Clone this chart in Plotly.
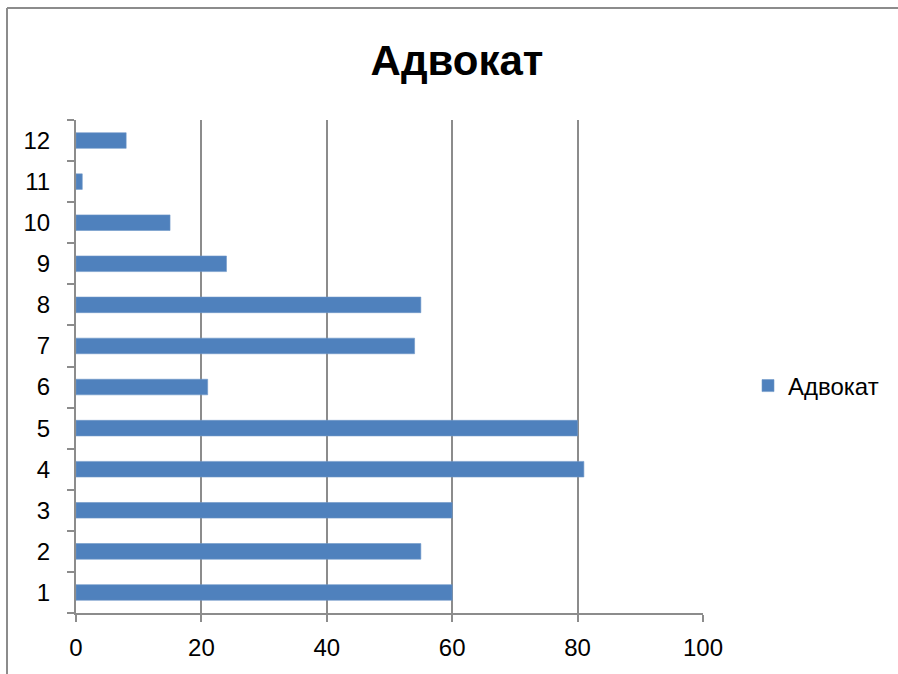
import plotly.graph_objects as go

categories = ["1", "2", "3", "4", "5", "6", "7", "8", "9", "10", "11", "12"]
values = [60, 55, 60, 81, 80, 21, 54, 55, 24, 15, 1, 8]
series_name = "Адвокат"
title_text = "Адвокат"
x_ticks = [0, 20, 40, 60, 80, 100]

W, H = 898, 674
L, R, T, B = 76, 195, 120, 61
pw, ph = W - L - R, H - T - B

def px_x(p):
    return (p - L) / pw

def px_y(p):
    return (H - B - p) / ph

FONT = "Liberation Sans, Arial, sans-serif"
GRAY = "#8c8c8c"

fig = go.Figure(
    go.Bar(
        x=values,
        y=categories,
        orientation="h",
        name=series_name,
        marker=dict(color="#4F81BD", line=dict(color="#6f97c8", width=0.6)),
        showlegend=True,
    )
)

fig.update_layout(
    width=W,
    height=H,
    margin=dict(l=L, r=R, t=T, b=B, autoexpand=False),
    paper_bgcolor="white",
    plot_bgcolor="white",
    font=dict(family=FONT, size=24, color="black"),
    bargap=0.62,
    title=dict(
        text="<b>" + title_text + "</b>",
        x=457 / W,
        xref="container",
        xanchor="center",
        y=1 - 60 / H,
        yref="container",
        yanchor="middle",
        font=dict(family=FONT, size=42, color="black"),
    ),
    legend=dict(
        x=px_x(748),
        y=px_y(386),
        xanchor="left",
        yanchor="middle",
        font=dict(family=FONT, size=24, color="black"),
        bgcolor="rgba(0,0,0,0)",
    ),
    xaxis=dict(
        range=[0, 100],
        tickvals=x_ticks,
        ticktext=[str(v) for v in x_ticks],
        ticks="outside",
        ticklen=7,
        tickwidth=2,
        tickcolor=GRAY,
        showgrid=True,
        gridcolor=GRAY,
        gridwidth=2,
        showline=True,
        linecolor=GRAY,
        linewidth=2,
        zeroline=False,
        ticklabelstandoff=5,
        fixedrange=True,
    ),
    yaxis=dict(
        type="category",
        categoryorder="array",
        categoryarray=categories,
        ticks="outside",
        tickson="boundaries",
        ticklen=7,
        tickwidth=2,
        tickcolor=GRAY,
        showgrid=False,
        showline=True,
        linecolor=GRAY,
        linewidth=2,
        zeroline=False,
        ticklabelstandoff=19,
        fixedrange=True,
    ),
    shapes=[
        dict(type="line", xref="paper", yref="paper",
             x0=px_x(7), x1=px_x(W + 5), y0=px_y(8), y1=px_y(8),
             line=dict(color=GRAY, width=2)),
        dict(type="line", xref="paper", yref="paper",
             x0=px_x(7), x1=px_x(7), y0=px_y(8), y1=px_y(H + 5),
             line=dict(color=GRAY, width=2)),
    ],
)

fig.write_html(
    "out.html",
    config={"displayModeBar": False, "staticPlot": False},
    post_script="document.body.style.margin='0';document.body.style.padding='0';document.body.style.overflow='hidden';",
)
